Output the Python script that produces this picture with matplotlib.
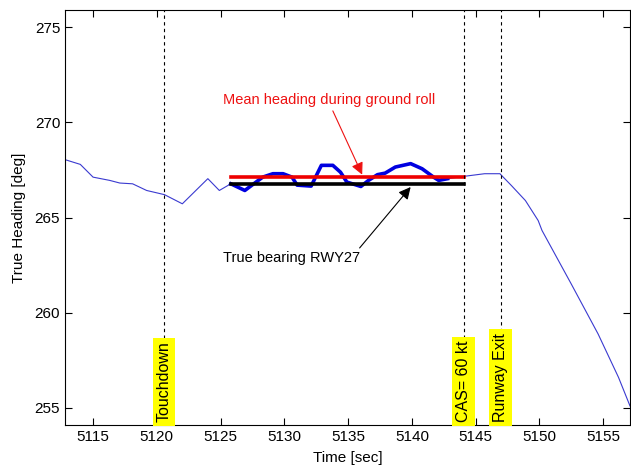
import matplotlib
matplotlib.use("Agg")
from matplotlib import pyplot as plt

plt.rcParams["font.family"] = ["Liberation Sans", "DejaVu Sans"]

# heading trace
time = [5112.8, 5114.0, 5115.0, 5116.3, 5117.1, 5118.1, 5119.2, 5120.6, 5122.0,
        5124.0, 5124.9, 5125.8, 5126.9, 5128.3, 5129.1, 5129.9, 5130.6, 5131.0,
        5132.1, 5132.9, 5133.8, 5134.4, 5134.9, 5136.0, 5136.6, 5137.3, 5137.9,
        5138.7, 5139.9, 5140.8, 5141.7, 5142.1, 5142.8, 5144.06, 5145.7, 5146.9,
        5147.8, 5148.9, 5149.9, 5150.2, 5152.5, 5154.6, 5156.2, 5157.1]
heading = [268.04, 267.79, 267.12, 266.95, 266.81, 266.77, 266.42, 266.2, 265.72,
           267.04, 266.42, 266.77, 266.42, 267.12, 267.30, 267.30, 267.12, 266.7,
           266.65, 267.74, 267.74, 267.38, 266.86, 266.63, 266.95, 267.25, 267.33,
           267.65, 267.83, 267.56, 267.12, 266.95, 267.04, 267.16, 267.30, 267.30,
           266.68, 265.89, 264.84, 264.32, 261.5, 258.88, 256.6, 255.1]

roll_start, roll_end = 5125.8, 5144.06
mean_heading = 267.12
rwy_bearing = 266.77

events = ["Touchdown", "CAS= 60 kt", "Runway Exit"]
event_times = [5120.55, 5144.06, 5146.95]

fig = plt.figure(figsize=(6.31, 4.70), dpi=100)
ax = fig.add_axes([65 / 631, 45 / 470, 565 / 631, 415 / 470])

ax.plot(time, heading, color="#3a3ad0", lw=0.8)
roll = [(t, h) for t, h in zip(time, heading) if roll_start <= t <= 5142.8]
ax.plot([r[0] for r in roll], [r[1] for r in roll], color="#0000e0", lw=2.6,
        solid_joinstyle="round")
ax.plot([roll_start, roll_end], [rwy_bearing, rwy_bearing], color="black", lw=2.6)
ax.plot([roll_start, roll_end], [mean_heading, mean_heading], color="#ee0000", lw=2.6)

for name, t in zip(events, event_times):
    ax.axvline(t, color="black", ls=(0, (3, 3)), lw=0.8)
    ax.text(t, 254.25, name, rotation=90, ha="center", va="bottom", fontsize=11.5,
            bbox=dict(facecolor="yellow", edgecolor="none", pad=2.8), zorder=5)

# red annotation
ax.text(5133.5, 271.15, "Mean heading during ground roll", color="#ee1111",
        fontsize=10.5, ha="center", va="center")
ax.annotate("", xy=(5136.1, 267.25), xytext=(5133.8, 270.6),
            arrowprops=dict(arrowstyle="-|>", color="#ee1111", lw=0.8,
                            mutation_scale=18, shrinkA=0, shrinkB=0))

# black annotation
ax.text(5130.6, 262.85, "True bearing RWY27", color="black",
        fontsize=10.5, ha="center", va="center")
ax.annotate("", xy=(5139.9, 266.6), xytext=(5135.9, 263.4),
            arrowprops=dict(arrowstyle="-|>", color="black", lw=0.8,
                            mutation_scale=18, shrinkA=0, shrinkB=0))

ax.set_xlim(5112.8, 5157.1)
ax.set_ylim(254.1, 275.9)
ax.set_xticks(range(5115, 5156, 5))
ax.set_yticks(range(255, 276, 5))
ax.tick_params(direction="in", top=True, right=True, labelsize=11, length=5)
ax.set_xlabel("Time [sec]", fontsize=11, labelpad=5)
ax.set_ylabel("True Heading [deg]", fontsize=11, labelpad=6)

fig.savefig("out.png", dpi=100)
